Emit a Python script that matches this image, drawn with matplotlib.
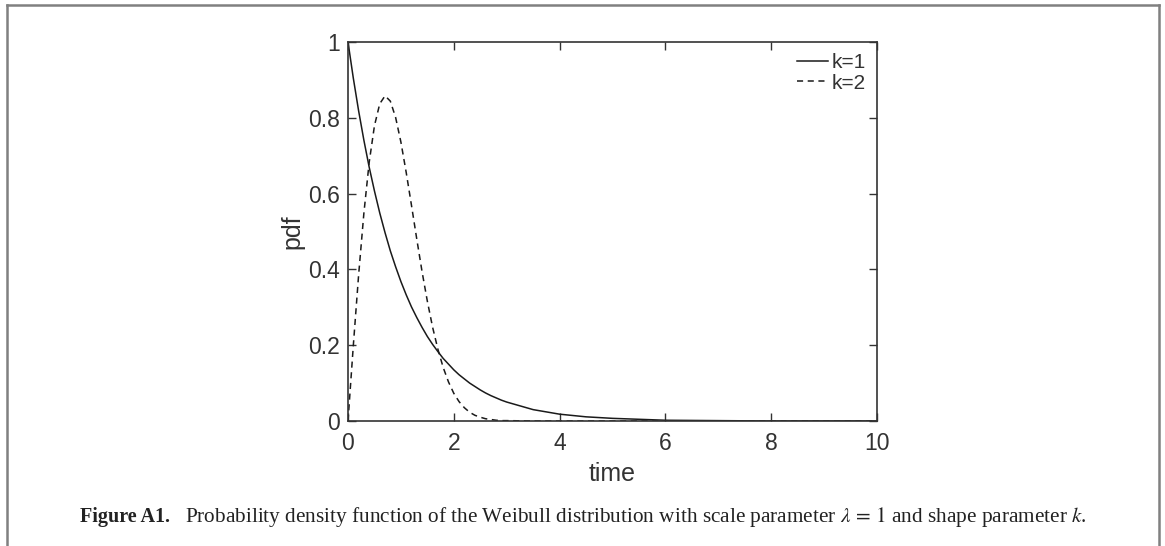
import matplotlib
matplotlib.use("Agg")
import matplotlib.pyplot as plt
from matplotlib.lines import Line2D

# values
time = [0.0, 0.1, 0.2, 0.3, 0.4, 0.5, 0.6, 0.7, 0.8, 0.9,
        1.0, 1.1, 1.2, 1.3, 1.4, 1.5, 1.6, 1.7, 1.8, 1.9,
        2.0, 2.1, 2.2, 2.3, 2.4, 2.5, 2.6, 2.7, 2.8, 2.9,
        3.0, 3.5, 4.0, 4.5, 5.0, 6.0, 7.0, 8.0, 9.0, 10.0]
pdf_k1 = [1.000, 0.905, 0.819, 0.741, 0.670, 0.607, 0.549, 0.497, 0.449, 0.407,
          0.368, 0.333, 0.301, 0.273, 0.247, 0.223, 0.202, 0.183, 0.165, 0.150,
          0.135, 0.122, 0.111, 0.100, 0.091, 0.082, 0.074, 0.067, 0.061, 0.055,
          0.050, 0.030, 0.018, 0.011, 0.007, 0.002, 0.001, 0.000, 0.000, 0.000]
pdf_k2 = [0.000, 0.198, 0.384, 0.548, 0.682, 0.779, 0.837, 0.858, 0.844, 0.801,
          0.736, 0.656, 0.569, 0.480, 0.394, 0.316, 0.247, 0.189, 0.141, 0.103,
          0.073, 0.051, 0.035, 0.023, 0.015, 0.010, 0.006, 0.004, 0.002, 0.001,
          0.001, 0.000, 0.000, 0.000, 0.000, 0.000, 0.000, 0.000, 0.000, 0.000]
labels = ["k=1", "k=2"]
x_ticks = [0, 2, 4, 6, 8, 10]
y_ticks = [0, 0.2, 0.4, 0.6, 0.8, 1]

caption = ("Probability density function of the Weibull distribution with scale "
           "parameter $\\lambda\\,=\\,1$ and shape parameter $k$.")

plt.rcParams['font.family'] = ['Liberation Sans', 'DejaVu Sans']
plt.rcParams['mathtext.fontset'] = 'stix'

W, H = 1165, 546
fig = plt.figure(figsize=(W / 100, H / 100), dpi=100)
ax = fig.add_axes([348 / W, 1 - 421 / H, (877 - 348) / W, (421 - 42) / H])

ax.plot(time, pdf_k1, color='#1a1a1a', lw=1.1, ls='-', label=labels[0])
ax.plot(time, pdf_k2, color='#1a1a1a', lw=1.1, ls=(0, (4, 3)), label=labels[1])

ax.set_xlim(0, 10)
ax.set_ylim(0, 1)
ax.set_xticks(x_ticks)
ax.set_yticks(y_ticks)
ax.set_yticklabels([f"{v:g}" for v in y_ticks])
ax.tick_params(direction='in', top=True, right=True, length=6, width=1.0,
               color='#333333', labelcolor='#333333', labelsize=16.5)
ax.tick_params(axis='x', pad=8)
ax.tick_params(axis='y', pad=5.5)
for s in ax.spines.values():
    s.set_color('#333333')
    s.set_linewidth(1.2)

ax.set_xlabel('time', fontsize=18, color='#333333', labelpad=5)
ax.set_ylabel('pdf', fontsize=18, color='#333333', labelpad=3)

leg = ax.legend(loc='upper right', frameon=False, fontsize=15,
                handlelength=1.5, handletextpad=0.15, labelspacing=0.05,
                borderaxespad=0.15)
for t in leg.get_texts():
    t.set_color('#333333')

# frame around the figure panel
gray = '#808080'
x0, x1, ytop = 7 / W, 1159 / W, 1 - 4.5 / H
fig.add_artist(Line2D([x0, x1], [ytop, ytop], color=gray, lw=1.8, transform=fig.transFigure))
fig.add_artist(Line2D([x0, x0], [ytop, 0], color=gray, lw=1.8, transform=fig.transFigure))
fig.add_artist(Line2D([x1, x1], [ytop, 0], color=gray, lw=1.8, transform=fig.transFigure))

# caption
fig.text(80 / W, 1 - 522 / H, 'Figure A1.', fontsize=14.5, fontweight='bold',
         family=['Liberation Serif'], color='#222222', va='baseline', ha='left')
fig.text(185 / W, 1 - 522 / H, caption, fontsize=15.3,
         family=['Liberation Serif'], color='#222222', va='baseline', ha='left')

fig.savefig('out.png', dpi=100)
